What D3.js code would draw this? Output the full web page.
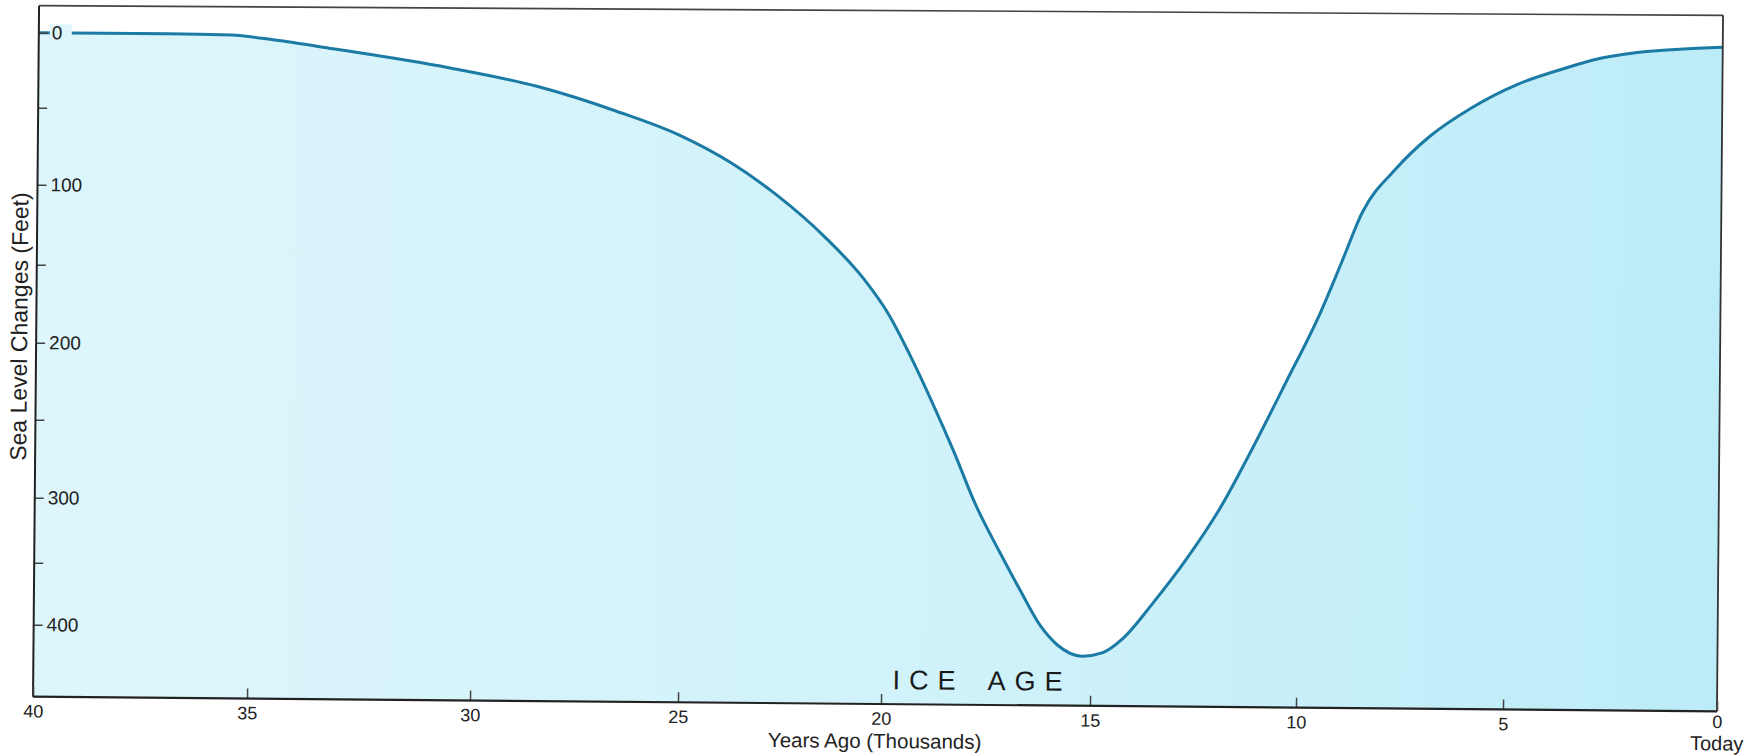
<!DOCTYPE html>
<html>
<head>
<meta charset="utf-8">
<style>
  body { margin: 0; background: #fff; }
  svg { display: block; font-family: "Liberation Sans", Arial, sans-serif; }
</style>
</head>
<body>
<svg></svg>
<script src="https://cdn.jsdelivr.net/npm/d3@7"></script>
<script>
var width = 1756;
var height = 755;

// thousands of years ago, and how far the sea stood below today's level (feet)
var yearsAgo     = [40, 37, 35.5, 34.5, 33.2, 30.6, 28.5, 26.6, 25.1, 23.8, 22.65, 21.5, 20.5, 19.9, 19.4, 18.85, 18.3, 17.8, 17.2, 16.7, 16.2, 15.8, 15.2, 14.7, 14.2, 13.5, 12.7, 11.9, 11.1, 10.3, 9.5, 9.0, 8.5, 7.7, 6.9, 5.9, 4.8, 3.7, 3.0, 2.0, 1.0, 0];
var seaLevelDrop = [0, 0, 0.5, 3.5, 9, 21, 33, 49, 64, 82, 103, 128, 155, 177, 202, 233, 266, 298, 335, 365, 394, 409, 418, 415, 403, 375, 340, 301, 261, 218, 174, 142, 110, 82, 61, 42, 26, 15, 9, 4, 1.5, 0];

var xTickValues = [40, 35, 30, 25, 20, 15, 10, 5, 0];
var yTickValues = [0, 50, 100, 150, 200, 250, 300, 350, 400];

var svg = d3.select("svg")
            .attr("width", width)
            .attr("height", height);

var left = 36, right = 1720, bottom = 704;

// the printed axes are hand drawn and not evenly spaced, so each scale
// goes through the tick marks as they sit on the page
var x = d3.scaleLinear()
    .domain(xTickValues)
    .range([left, 250, 473, 681, 884, 1093, 1299, 1506, right]);

var y = d3.scaleLinear()
    .domain([0, 50, 100, 150, 200, 250, 300, 350, 400, 458])
    .range([40, 115, 192, 272, 350, 427, 505, 570, 632, bottom]);

var defs = svg.append("defs");
var grad = defs.append("linearGradient")
    .attr("id", "water")
    .attr("x1", "0").attr("x2", "1")
    .attr("y1", "0").attr("y2", "0");
grad.append("stop").attr("offset", "0%").attr("stop-color", "#ddf6fb");
grad.append("stop").attr("offset", "55%").attr("stop-color", "#d0f2fa");
grad.append("stop").attr("offset", "100%").attr("stop-color", "#bcecf8");

// the scanned page sits a little turned
var g = svg.append("g").attr("transform", "rotate(0.5,878,360)");

var data = yearsAgo.map(function(d, i) {
  return { year: d, drop: seaLevelDrop[i] };
});

var area = d3.area()
    .x(function(d) { return x(d.year); })
    .y0(bottom)
    .y1(function(d) { return y(d.drop); })
    .curve(d3.curveMonotoneX);

var line = d3.line()
    .x(function(d) { return x(d.year); })
    .y(function(d) { return y(d.drop); })
    .curve(d3.curveMonotoneX);

g.append("path")
    .datum(data)
    .attr("d", area)
    .attr("fill", "url(#water)");

g.append("path")
    .datum(data)
    .attr("d", line)
    .attr("fill", "none")
    .attr("stroke", "#1c7ba5")
    .attr("stroke-width", 3);

/* frame - the top edge of the print is less tilted than the rest */
g.append("line")
    .attr("x1", left).attr("x2", right)
    .attr("y1", 13).attr("y2", 8)
    .attr("stroke", "#444").attr("stroke-width", 1.6);
g.append("line")
    .attr("x1", right).attr("x2", right)
    .attr("y1", 8).attr("y2", bottom)
    .attr("stroke", "#333").attr("stroke-width", 1.8);

/* y axis, ticks point into the plot */
var yAxis = d3.axisRight(y)
    .tickValues(yTickValues)
    .tickSize(9)
    .tickPadding(4)
    .tickFormat(function(d) { return d % 100 === 0 ? d : ""; });

var yg = g.append("g")
    .attr("transform", "translate(" + left + ",0)")
    .call(yAxis);
yg.select(".domain").remove();
yg.selectAll(".tick line").attr("stroke", "#444").attr("stroke-width", 1.5);
yg.selectAll(".tick text")
    .attr("fill", "#222")
    .style("font-size", "19px");

// the curve is broken where the "0" label sits
yg.selectAll(".tick")
    .filter(function(d) { return d === 0; })
    .insert("rect", "text")
    .attr("x", 11).attr("y", -9)
    .attr("width", 22).attr("height", 18)
    .attr("fill", "#ddf6fb");

g.append("line")
    .attr("x1", left).attr("x2", left)
    .attr("y1", 13).attr("y2", bottom)
    .attr("stroke", "#222").attr("stroke-width", 2);

/* x axis, ticks point up */
var xAxis = d3.axisBottom(x)
    .tickValues(xTickValues)
    .tickSize(-10)
    .tickPadding(8);

var xg = g.append("g")
    .attr("transform", "translate(0," + bottom + ")")
    .call(xAxis);
xg.select(".domain").remove();
xg.selectAll(".tick line").attr("stroke", "#444").attr("stroke-width", 1.5);
xg.selectAll(".tick text")
    .attr("fill", "#222")
    .style("font-size", "18px");

// "0" sits a touch higher so "Today" fits under it
xg.selectAll(".tick text")
    .filter(function(d) { return d === 0; })
    .attr("y", 4);

g.append("line")
    .attr("x1", left).attr("x2", right)
    .attr("y1", bottom).attr("y2", bottom)
    .attr("stroke", "#222").attr("stroke-width", 2.2);

/* labels */
g.append("text")
    .attr("x", x(0))
    .attr("y", bottom + 39)
    .attr("text-anchor", "middle")
    .attr("fill", "#222")
    .style("font-size", "20px")
    .text("Today");

g.append("text")
    .attr("x", 878)
    .attr("y", bottom + 44)
    .attr("text-anchor", "middle")
    .attr("fill", "#222")
    .style("font-size", "20.5px")
    .text("Years Ago (Thousands)");

g.append("text")
    .attr("transform", "translate(27,334) rotate(-90)")
    .attr("text-anchor", "middle")
    .attr("fill", "#222")
    .style("font-size", "23px")
    .text("Sea Level Changes (Feet)");

g.append("text")
    .attr("x", 985)
    .attr("y", 689)
    .attr("text-anchor", "middle")
    .attr("fill", "#1a1a1a")
    .style("font-size", "27px")
    .style("letter-spacing", "9px")
    .style("word-spacing", "8px")
    .text("ICE AGE");
</script>
</body>
</html>
